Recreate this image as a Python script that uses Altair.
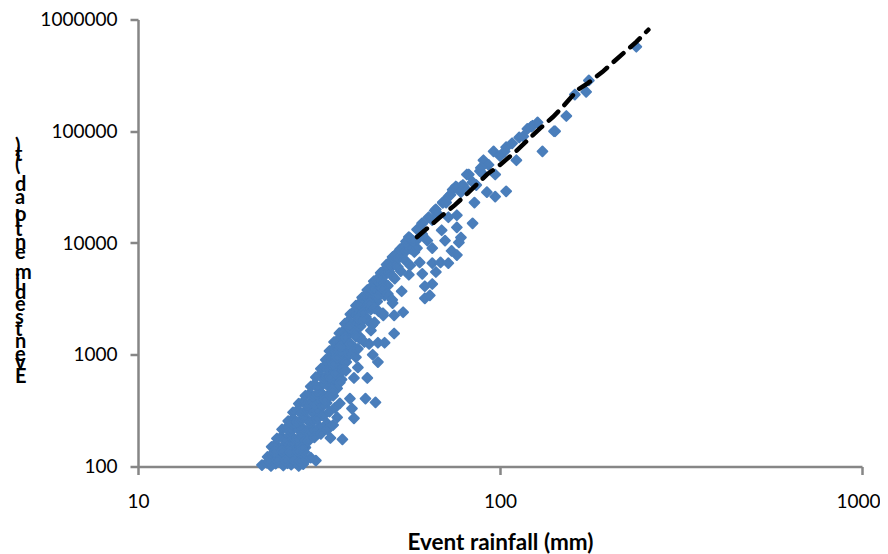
import altair as alt
import pandas as pd

# main dense band of events (rainfall mm, sediment load t)
band_x = [22,22.7,23.3,24,24.6,25.2,25.9,26.5,27.2,27.8,28.6,
          22.8,23.6,24.3,25,25.8,26.5,27.3,28,
          23.4,24,24.7,25.3,26,26.7,27.4,28.1,29,
          24.2,24.9,25.5,26.2,26.9,27.6,28.3,29,
          25,25.7,26.4,27,27.8,28.5,29.2,30,
          26,26.8,27.5,28.2,29,29.8,30.6,
          26.8,27.6,28.3,29,29.8,30.5,31.3,32.2,
          27.8,28.6,29.3,30,30.8,31.6,32.4,33.2,
          29,29.8,30.5,31.2,32,32.8,33.6,34.6,
          30,30.7,31.4,32.2,33,33.8,34.6,35.5,
          31,31.7,32.5,33.2,34,34.8,35.6,36.5,
          32,32.7,33.4,34.2,35,35.8,36.6,
          33,33.7,34.4,35.2,36,36.8,37.6,
          33.8,34.5,35.3,36,36.8,37.6,38.4,
          34.8,35.6,36.4,37.2,38,38.8,39.6,
          36,36.8,37.6,38.4,39.2,40,41,
          37.3,38,38.8,39.6,40.4,41.2,
          38.6,39.4,40.2,41,41.8,42.6,
          40,40.8,41.6,42.4,43.2,44,
          41.6,42.4,43.2,44,44.8,45.8,
          43,43.8,44.6,45.4,46.2,47,48,
          44.8,45.6,46.4,47.2,48,49,
          46.8,47.6,48.5,49.4,50.3,51.2,
          48.6,49.5,50.4,51.3,52.2,53.2,
          50.5,51.5,52.5,53.5,54.5,
          53,54,55,56.5,58,
          55,56.5,58,59.5]
band_y = [103,108,101,106,110,102,107,104,109,101,105,
          122,128,118,130,124,120,127,122,
          150,158,145,155,148,160,143,152,148,
          178,185,172,190,180,175,188,170,
          215,222,208,228,212,220,205,225,
          255,268,250,262,272,248,258,
          305,320,300,315,325,298,310,290,
          365,380,355,375,360,385,350,370,
          430,450,425,445,460,420,440,430,
          520,545,510,535,550,515,530,500,
          630,655,620,645,665,615,640,600,
          750,790,740,775,760,800,730,
          900,940,880,925,950,890,860,
          1080,1120,1060,1110,1140,1050,1000,
          1300,1350,1270,1330,1280,1220,1160,
          1560,1620,1520,1600,1560,1480,1390,
          1900,1980,1850,1950,1880,1800,
          2300,2420,2250,2350,2260,2180,
          2750,2850,2700,2780,2650,2550,
          3250,3380,3200,3300,3150,3000,
          3800,3950,3750,3900,3700,3600,3400,
          4550,4700,4450,4600,4350,4150,
          5400,5600,5300,5500,5100,4800,
          6400,6700,6200,6500,6100,5600,
          7500,7900,7300,7700,7100,
          8800,9200,8500,8900,8300,
          10300,11000,10200,11000]

# events filling the lower side of the band
fill_x = [23,24.2,25.5,26.8,28,29.2,23.8,25,26.3,27.6,28.8,
          28.4,29.9,30.8,31.8,33.3,35.5,29.5,30.7,32,33.4,34.6,
          31.2,32.5,33.8,35,36.1,32.8,34,34.5,36.1,33.9,35.2,36.8,
          34.6,35.5,36.4,37.8,36.2,37.4,38.6,39.6,38.4,39.8,41,42.2,
          40.6,41.8,43,44.4,43.6,45,46.2,47.6,46,47.4,49,50.4]
fill_y = [112,114,113,116,112,115,136,138,134,137,135,
          148,198,210,225,243,275,168,182,196,214,235,
          265,285,310,335,367,395,430,480,565,627,680,725,
          820,945,1040,1260,1180,1420,1250,1090,1750,1600,1450,1300,
          2100,2350,2050,1850,2900,2600,2450,2250,3300,3900,3500,3100]

# scattered events away from the band
extra_x = [45.3,39.5,36.7,31,30,34,42.5,38.5,39,43,39.5,37.5,40.5,40,46,44.5,51,48,46,43.5,40.5,40,44,42,45,47.5,51,54,62,50.5,
           84,76,78,77,73.5,76,65,60,56.5,65,68.5,72,61,66.5,56,62,65,64,53.5,70.5,69,63,59,76,72,85,97,92,104,97,90,96,111,131,142,104,108,113,123,82,76,69.5,66,61,56,
           127,122,141,152.5,161,173,176,238,
           72,74,78,80,86,88,93,100,103,116,119,59,61,63.5,66.5,69.5,73,75.5,81,79,65,67,71,78,84,90,88.5,61,57.5]
extra_y = [375,270,175,113,120,180,405,405,330,620,620,720,770,950,860,1000,1550,1280,1280,1250,1130,1450,1650,2050,1950,2350,2250,2400,3200,2900,
           15000,13800,11200,10100,8500,7800,9000,6700,6300,6600,6700,6600,5300,5500,5200,4100,4300,3400,3700,10500,13000,10500,9000,17700,17000,23000,26000,28500,29000,41000,55000,66000,55000,66000,100000,72000,78000,88000,112000,41000,31500,23000,19500,15000,11300,
           120000,110000,100000,137000,213000,225000,285000,570000,
           26000,30000,32000,31000,33000,44000,50000,60000,66000,90000,105000,13200,15000,17000,20000,23000,27000,32000,41000,33000,16000,18500,23000,28500,35000,41000,47000,12000,10500]

# dashed power-law trend
trend_x = [59,68,75,81.5,92,100,110,121,129,140,149,164,175,192,208,238,257]
trend_y = [11300,16800,21800,28000,41000,50000,65000,87000,106000,134000,165000,235000,270000,340000,430000,630000,810000]

# y title, drawn one upright glyph at a time going up the axis
title_chars = list("Event sediment load (t)")
title_rows = [357.5,343.5,335.5,322.5,310.5,305,298.5,285.5,273.5,263,253.5,233.5,223.5,210.5,205,199,195,178.5,165.5,155,145.5,135.5,127.5]

tick_y = [100,1000,10000,100000,1000000]
tick_x = [10,100,1000]
FONT = "Lato"
points = pd.DataFrame({"x": band_x + fill_x + extra_x, "y": band_y + fill_y + extra_y})
trend = pd.DataFrame({"x": trend_x, "y": trend_y})
title_df = pd.DataFrame({"c": title_chars, "py": title_rows})

xs = alt.Scale(type="log", domain=[10,1000])
ys = alt.Scale(type="log", domain=[100,1000000])

pts = alt.Chart(points).mark_point(shape="diamond", filled=True, size=95, color="#4a7ebb",
    opacity=1, stroke="#4a7ebb", strokeWidth=2, strokeJoin="round", clip=False).encode(
    x=alt.X("x:Q", scale=xs, axis=alt.Axis(values=tick_x, format="d", title="Event rainfall (mm)", grid=False,
        domainColor="#868686", domainWidth=2.5, tickColor="#868686", tickWidth=2.5, tickSize=8,
        labelFont=FONT, labelFontSize=19, labelColor="#000000", labelPadding=18, labelFlush=False,
        labelOffset=alt.expr("datum.value == 1000 ? -4 : 0"),
        titleFont=FONT, titleFontSize=22.5, titleFontWeight="bold", titleColor="#000000", titlePadding=20)),
    y=alt.Y("y:Q", scale=ys, axis=alt.Axis(values=tick_y, format="d", title=None, grid=False,
        domainColor="#868686", domainWidth=2.5, tickColor="#868686", tickWidth=2.5, tickSize=8,
        labelFont=FONT, labelFontSize=19, labelColor="#000000", labelPadding=13)))

line = alt.Chart(trend).mark_line(color="#000000", strokeWidth=4.5, strokeDash=[13,9], strokeCap="round").encode(
    x=alt.X("x:Q", scale=xs), y=alt.Y("y:Q", scale=ys))

ytitle = alt.Chart(title_df).mark_text(font=FONT, fontSize=20, fontWeight="bold", color="#000000", align="left", clip=False).encode(
    x=alt.value(-123), y=alt.Y("py:Q", scale=None), text="c:N")

chart = (pts + line + ytitle).properties(
    width=724, height=447,
    autosize=alt.AutoSizeParams(type="none"),
    padding={"left":130,"top":11.5,"right":18,"bottom":87},
).configure_view(stroke=None)
chart.save("out.html", embed_options={"renderer": "svg", "actions": False})
